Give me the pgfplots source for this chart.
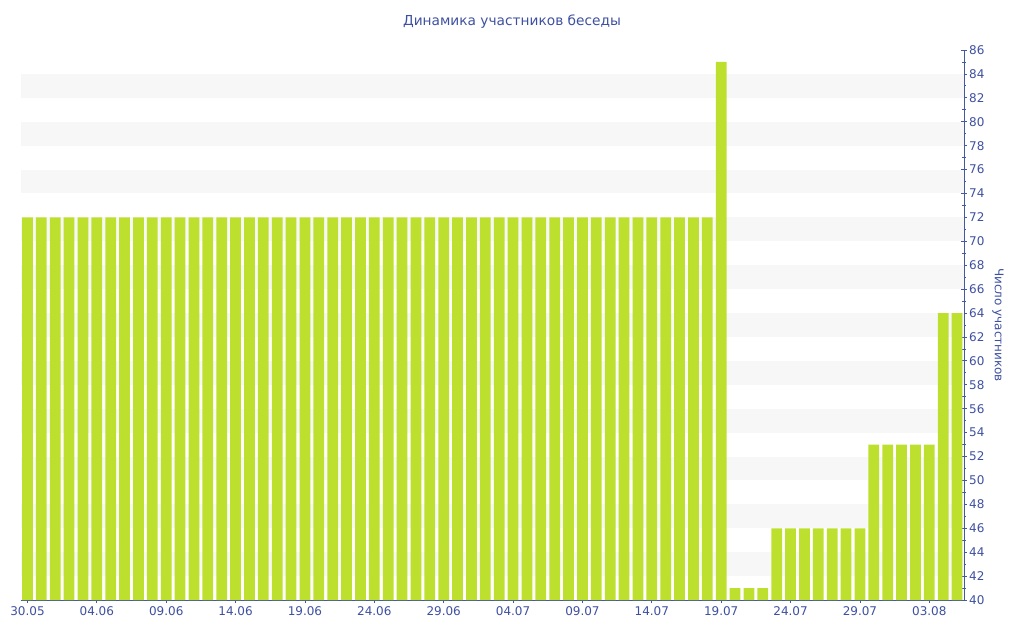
\documentclass[border=0pt]{standalone}
\usepackage{pgfplots}
\pgfplotsset{compat=1.18}
\usepackage{fontspec}
\setmainfont{DejaVu Sans}
\definecolor{barc}{RGB}{189,224,46}
\definecolor{txtc}{RGB}{62,80,160}
\definecolor{axc}{RGB}{70,88,160}
\definecolor{band}{RGB}{247,247,247}
\begin{document}
\begin{tikzpicture}[x=1pt,y=1pt]
\path[use as bounding box] (0,0) rectangle (768,480);
\node[text=txtc,font=\fontsize{10.3}{12}\selectfont] at (384,463.5) {Динамика участников беседы};
\node[text=txtc,font=\fontsize{9}{11}\selectfont,rotate=-90] at (748.5,236.25) {Число участников};
\begin{axis}[
  at={(15.4pt,30pt)}, anchor=south west,
  scale only axis, width=707.6pt, height=412.5pt,
  xmin=-0.5, xmax=67.5, ymin=40, ymax=86,
  axis x line*=bottom, axis y line*=right,
  axis line style={axc, line width=0.75pt},
  ybar, bar width=8.1pt,
  xtick={0,5,...,65},
  xticklabels={30.05,04.06,09.06,14.06,19.06,24.06,29.06,04.07,09.07,14.07,19.07,24.07,29.07,03.08},
  ytick={40,42,...,86},
  minor ytick={41,43,...,85},
  tick style={axc, line width=0.6pt},
  major tick length=3.75pt, minor tick length=2.5pt,
  tick align=center,
  ticklabel style={text=txtc, font=\fontsize{9}{11}\selectfont},
  /pgf/number format/assume math mode=true,
  xticklabel style={yshift=0.5pt},
  yticklabel style={xshift=-1.5pt},
  clip=true,
]
\pgfplotsinvokeforeach{42,46,...,82}{
  \fill[band] (axis cs:-0.5,#1) rectangle (axis cs:67.5,#1+2);
}
\addplot[fill=barc, draw=none, bar shift=0pt] coordinates {
(0,72)(1,72)(2,72)(3,72)(4,72)(5,72)(6,72)(7,72)(8,72)(9,72)
(10,72)(11,72)(12,72)(13,72)(14,72)(15,72)(16,72)(17,72)(18,72)(19,72)
(20,72)(21,72)(22,72)(23,72)(24,72)(25,72)(26,72)(27,72)(28,72)(29,72)
(30,72)(31,72)(32,72)(33,72)(34,72)(35,72)(36,72)(37,72)(38,72)(39,72)
(40,72)(41,72)(42,72)(43,72)(44,72)(45,72)(46,72)(47,72)(48,72)(49,72)
(50,85)(51,41)(52,41)(53,41)(54,46)(55,46)(56,46)(57,46)(58,46)(59,46)
(60,46)(61,53)(62,53)(63,53)(64,53)(65,53)(66,64)(67,64)
};
\end{axis}
\end{tikzpicture}
\end{document}
